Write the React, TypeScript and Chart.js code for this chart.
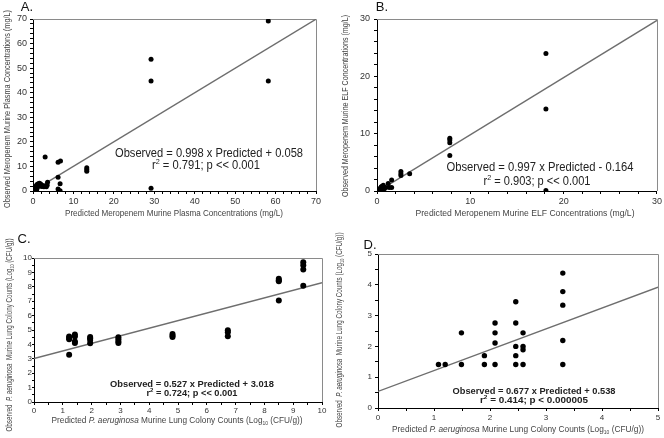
import React, { useEffect, useRef } from "react";
import { Chart, registerables } from "chart.js";
Chart.register(...registerables);

// ---------- Panel A data ----------
const aPredicted = [0.1, 0.2, 0.3, 0.4, 0.5, 0.6, 0.8, 0.9, 1.0, 1.1, 1.3, 1.5, 1.6, 1.9, 2.1, 2.4, 2.7, 3.3, 3.5, 3.6, 3.0, 6.2, 6.8, 6.2, 6.7, 6.2, 6.7, 13.3, 13.3, 13.3, 29.2, 29.2, 29.2, 58.2, 58.2];
const aObserved = [0.2, 0.6, 1.0, 0.3, 1.5, 0.8, 2.1, 0.5, 2.6, 1.4, 3.0, 2.4, 3.2, 2.8, 1.8, 2.2, 1.7, 1.7, 2.3, 3.6, 13.8, 11.7, 12.2, 5.6, 3.0, 0.8, 0.1, 9.5, 8.8, 8.0, 53.6, 44.8, 1.1, 69.2, 44.8];
const aSlope = 0.998;
const aIntercept = 0.058;
const aXTitle = "Predicted Meropenem Murine Plasma Concentrations (mg/L)";
const aYTitle = "Observed Meropenem Murine Plasma Concentrations (mg/L)";

// ---------- Panel B data ----------
const bPredicted = [0.05, 0.1, 0.15, 0.2, 0.3, 0.35, 0.45, 0.5, 0.6, 0.67, 0.8, 0.9, 1.2, 1.3, 1.57, 1.57, 2.56, 2.56, 2.56, 3.5, 7.8, 7.8, 7.8, 7.8, 18.1, 18.1, 18.1];
const bObserved = [0.05, 0.15, 0.0, 0.3, 0.1, 0.5, 0.7, 0.8, 0.2, 1.0, 0.4, 0.6, 1.3, 0.6, 0.6, 1.9, 3.4, 3.0, 2.7, 3.0, 9.2, 8.9, 8.4, 6.2, 24.0, 14.3, 0.1];
const bSlope = 0.997;
const bIntercept = -0.164;
const bXTitle = "Predicted Meropenem Murine ELF Concentrations (mg/L)";
const bYTitle = "Observed Meropenem Murine ELF Concentrations (mg/L)";

// ---------- Panel C data ----------
const cPredicted = [1.22, 1.22, 1.22, 1.22, 1.42, 1.42, 1.42, 1.42, 1.95, 1.95, 1.95, 1.95, 2.93, 2.93, 2.93, 2.93, 4.81, 4.81, 4.81, 6.73, 6.73, 6.73, 8.5, 8.5, 8.5, 8.5, 9.35, 9.35, 9.35, 9.35];
const cObserved = [4.55, 4.45, 4.35, 3.28, 4.68, 4.55, 4.2, 4.1, 4.52, 4.42, 4.3, 4.08, 4.5, 4.35, 4.2, 4.1, 4.72, 4.6, 4.52, 4.98, 4.84, 4.56, 8.56, 8.45, 8.38, 7.05, 9.7, 9.5, 9.2, 8.07];
const cSlope = 0.527;
const cIntercept = 3.018;

// ---------- Panel D data ----------
const dPredicted = [1.08, 1.2, 1.49, 1.49, 1.9, 1.9, 2.09, 2.09, 2.09, 2.09, 2.46, 2.46, 2.46, 2.46, 2.46, 2.59, 2.59, 2.59, 2.59, 3.3, 3.3, 3.3, 3.3, 3.3];
const dObserved = [1.41, 1.41, 2.44, 1.41, 1.7, 1.41, 2.76, 2.44, 2.11, 1.41, 3.45, 2.76, 2.0, 1.7, 1.41, 2.44, 2.0, 1.89, 1.41, 4.38, 3.78, 3.34, 2.19, 1.41];
const dSlope = 0.677;
const dIntercept = 0.538;

const FAM = '"Liberation Sans", Arial, Helvetica, sans-serif';
const F = (size: number, style = "") => `${style} ${size}px ${FAM}`.trim();

type Part = { t: string; f: string; dy?: number };
type TextItem = { parts: Part[]; cx: number; cy: number; width?: number; rotate?: boolean; color?: string };

function drawRich(ctx: CanvasRenderingContext2D, item: TextItem) {
  ctx.save();
  let total = 0;
  const widths: number[] = [];
  for (const p of item.parts) {
    ctx.font = p.f;
    const w = ctx.measureText(p.t).width;
    widths.push(w);
    total += w;
  }
  const sx = item.width ? item.width / total : 1;
  ctx.translate(item.cx, item.cy);
  if (item.rotate) ctx.rotate(-Math.PI / 2);
  ctx.scale(sx, 1);
  ctx.textBaseline = "middle";
  ctx.textAlign = "left";
  ctx.fillStyle = item.color || "#333";
  let x = -total / 2;
  item.parts.forEach((p, i) => {
    ctx.font = p.f;
    ctx.fillText(p.t, x, p.dy || 0);
    x += widths[i];
  });
  ctx.restore();
}

type PanelCfg = {
  left: number; top: number; w: number; h: number;
  xs: number[]; ys: number[]; slope: number; intercept: number;
  xMax: number; yMax: number; xStep: number; yStep: number; xMajor: number; yMajor: number;
  area: { left: number; top: number; right: number; bottom: number };
  tickSize: number; xPad: number; xLen: number; yPad: number; yLen: number;
  radius: number;
  texts: TextItem[];
};

const isMajor = (v: number, major: number) => Math.abs(v / major - Math.round(v / major)) < 1e-6;

const eqParts = (s: string, size: number, style = ""): Part[] => [{ t: s, f: F(size, style) }];
const rParts = (rest: string, size: number, style = ""): Part[] => [
  { t: "r", f: F(size, style) },
  { t: "2", f: F(size * 0.65, style), dy: -size * 0.35 },
  { t: rest, f: F(size, style) },
];
const organismParts = (pre: string, size: number): Part[] => [
  { t: pre, f: F(size) },
  { t: "P. aeruginosa", f: F(size, "italic") },
  { t: pre.startsWith("Observed") ? "  Murine Lung Colony Counts (Log" : " Murine Lung Colony Counts (Log", f: F(size) },
  { t: "10", f: F(size * 0.6), dy: size * 0.3 },
  { t: " (CFU/g))", f: F(size) },
];

const panels: PanelCfg[] = [
  {
    left: 0, top: 0, w: 332, h: 219,
    xs: aPredicted, ys: aObserved, slope: aSlope, intercept: aIntercept,
    xMax: 70, yMax: 70, xStep: 2, yStep: 2, xMajor: 10, yMajor: 10,
    area: { left: 33, top: 19, right: 316, bottom: 191 },
    tickSize: 9, xPad: 2, xLen: 3, yPad: 3, yLen: 3, radius: 2.5,
    texts: [
      { parts: [{ t: "A.", f: F(13) }], cx: 27, cy: 7, color: "#111" },
      { parts: [{ t: aXTitle, f: F(9.5) }], cx: 174, cy: 213, width: 218, color: "#444" },
      { parts: [{ t: aYTitle, f: F(9.5) }], cx: 7, cy: 109, width: 198, rotate: true, color: "#444" },
      { parts: eqParts("Observed = 0.998 x Predicted + 0.058", 12.5), cx: 209, cy: 154, width: 188, color: "#222" },
      { parts: rParts(" = 0.791; p << 0.001", 12.5), cx: 206, cy: 166, width: 108, color: "#222" },
    ],
  },
  {
    left: 332, top: 0, w: 332, h: 219,
    xs: bPredicted, ys: bObserved, slope: bSlope, intercept: bIntercept,
    xMax: 30, yMax: 30, xStep: 2, yStep: 2, xMajor: 10, yMajor: 10,
    area: { left: 45, top: 19, right: 326, bottom: 191 },
    tickSize: 9, xPad: 2, xLen: 3, yPad: 4, yLen: 3, radius: 2.5,
    texts: [
      { parts: [{ t: "B.", f: F(13) }], cx: 50, cy: 7, color: "#111" },
      { parts: [{ t: bXTitle, f: F(9.5) }], cx: 193, cy: 213, width: 219, color: "#444" },
      { parts: [{ t: bYTitle, f: F(9.5) }], cx: 13, cy: 106, width: 182, rotate: true, color: "#444" },
      { parts: eqParts("Observed = 0.997 x Predicted - 0.164", 12.5), cx: 208, cy: 168, width: 187, color: "#222" },
      { parts: rParts(" = 0.903; p << 0.001", 12.5), cx: 205, cy: 182, width: 107, color: "#222" },
    ],
  },
  {
    left: 0, top: 219, w: 332, h: 219,
    xs: cPredicted, ys: cObserved, slope: cSlope, intercept: cIntercept,
    xMax: 10, yMax: 10, xStep: 0.5, yStep: 0.5, xMajor: 1, yMajor: 1,
    area: { left: 34, top: 39, right: 322, bottom: 183 },
    tickSize: 8, xPad: 1, xLen: 3, yPad: 0, yLen: 2, radius: 3,
    texts: [
      { parts: [{ t: "C.", f: F(13) }], cx: 24, cy: 20, color: "#111" },
      { parts: organismParts("Predicted ", 8.5), cx: 177, cy: 202, width: 251, color: "#444" },
      { parts: organismParts("Observed  ", 8.5), cx: 10, cy: 116, width: 193, rotate: true, color: "#444" },
      { parts: eqParts("Observed = 0.527 x Predicted + 3.018", 9, "bold"), cx: 192, cy: 166, width: 164, color: "#222" },
      { parts: rParts(" = 0.724; p << 0.001", 9, "bold"), cx: 192, cy: 174.5, width: 91, color: "#222" },
    ],
  },
  {
    left: 332, top: 219, w: 332, h: 219,
    xs: dPredicted, ys: dObserved, slope: dSlope, intercept: dIntercept,
    xMax: 5, yMax: 5, xStep: 0.5, yStep: 0.5, xMajor: 1, yMajor: 1,
    area: { left: 46, top: 35, right: 326, bottom: 189 },
    tickSize: 8, xPad: 2, xLen: 3, yPad: 3, yLen: 3, radius: 2.7,
    texts: [
      { parts: [{ t: "D.", f: F(13) }], cx: 38, cy: 26, color: "#111" },
      { parts: organismParts("Predicted ", 8.5), cx: 186, cy: 211, width: 252, color: "#444" },
      { parts: organismParts("Observed  ", 8.5), cx: 8, cy: 111, width: 195, rotate: true, color: "#444" },
      { parts: eqParts("Observed = 0.677 x Predicted + 0.538", 9, "bold"), cx: 202, cy: 173, width: 163, color: "#222" },
      { parts: rParts(" = 0.414; p < 0.000005", 9, "bold"), cx: 202, cy: 182, width: 108, color: "#222" },
    ],
  },
];

function Panel({ cfg }: { cfg: PanelCfg }) {
  const ref = useRef<HTMLCanvasElement | null>(null);
  useEffect(() => {
    const canvas = ref.current;
    if (!canvas) return;
    const points = cfg.xs.map((x, i) => ({ x, y: cfg.ys[i] }));
    const line = [
      { x: 0, y: cfg.intercept },
      { x: cfg.xMax, y: cfg.slope * cfg.xMax + cfg.intercept },
    ];
    const panelPlugin = {
      id: "panelDeco",
      beforeDatasetsDraw(chart: any) {
        const { ctx, chartArea } = chart;
        ctx.save();
        ctx.strokeStyle = "#8a8a8a";
        ctx.lineWidth = 1;
        ctx.beginPath();
        ctx.moveTo(chartArea.left, chartArea.top + 0.5);
        ctx.lineTo(chartArea.right + 0.5, chartArea.top + 0.5);
        ctx.lineTo(chartArea.right + 0.5, chartArea.bottom);
        ctx.stroke();
        ctx.restore();
      },
      afterDraw(chart: any) {
        const ctx = chart.ctx as CanvasRenderingContext2D;
        cfg.texts.forEach((t) => drawRich(ctx, t));
      },
    };
    const tickFont = { family: FAM, size: cfg.tickSize };
    const chart = new Chart(canvas, {
      type: "scatter",
      data: {
        datasets: [
          {
            type: "line",
            data: line,
            borderColor: "#6e6e6e",
            borderWidth: 1.4,
            pointRadius: 0,
            fill: false,
            order: 2,
          } as any,
          {
            type: "scatter",
            data: points,
            backgroundColor: "#000",
            borderColor: "#000",
            borderWidth: 0,
            pointRadius: cfg.radius,
            order: 1,
          } as any,
        ],
      },
      options: {
        responsive: false,
        animation: false,
        devicePixelRatio: 1,
        layout: { padding: { top: cfg.area.top, right: cfg.w - cfg.area.right, left: 0, bottom: 0 } },
        plugins: { legend: { display: false }, tooltip: { enabled: false } },
        scales: {
          x: {
            type: "linear",
            min: 0,
            max: cfg.xMax,
            afterFit: (s: any) => { s.height = cfg.h - cfg.area.bottom; },
            ticks: {
              stepSize: cfg.xStep,
              autoSkip: false,
              maxRotation: 0,
              font: tickFont,
              color: "#333",
              padding: cfg.xPad,
              callback: (v: any) => (isMajor(Number(v), cfg.xMajor) ? String(Math.round(Number(v))) : ""),
            },
            grid: { drawOnChartArea: false, drawTicks: true, tickLength: cfg.xLen, color: "#000" },
            border: { color: "#000", width: 1 },
          },
          y: {
            type: "linear",
            min: 0,
            max: cfg.yMax,
            afterFit: (s: any) => { s.width = cfg.area.left; },
            ticks: {
              stepSize: cfg.yStep,
              autoSkip: false,
              font: tickFont,
              color: "#333",
              padding: cfg.yPad,
              callback: (v: any) => (isMajor(Number(v), cfg.yMajor) ? String(Math.round(Number(v))) : ""),
            },
            grid: { drawOnChartArea: false, drawTicks: true, tickLength: cfg.yLen, color: "#000" },
            border: { color: "#000", width: 1 },
          },
        },
      } as any,
      plugins: [panelPlugin],
    });
    return () => chart.destroy();
  }, [cfg]);
  return (
    <div style={{ position: "absolute", left: cfg.left, top: cfg.top, width: cfg.w, height: cfg.h }}>
      <canvas ref={ref} width={cfg.w} height={cfg.h} style={{ width: cfg.w, height: cfg.h, display: "block" }} />
    </div>
  );
}

export default function App() {
  return (
    <div style={{ position: "fixed", left: 0, top: 0, width: 664, height: 438, background: "#fff", overflow: "hidden" }}>
      {panels.map((p, i) => (
        <Panel key={i} cfg={p} />
      ))}
    </div>
  );
}
